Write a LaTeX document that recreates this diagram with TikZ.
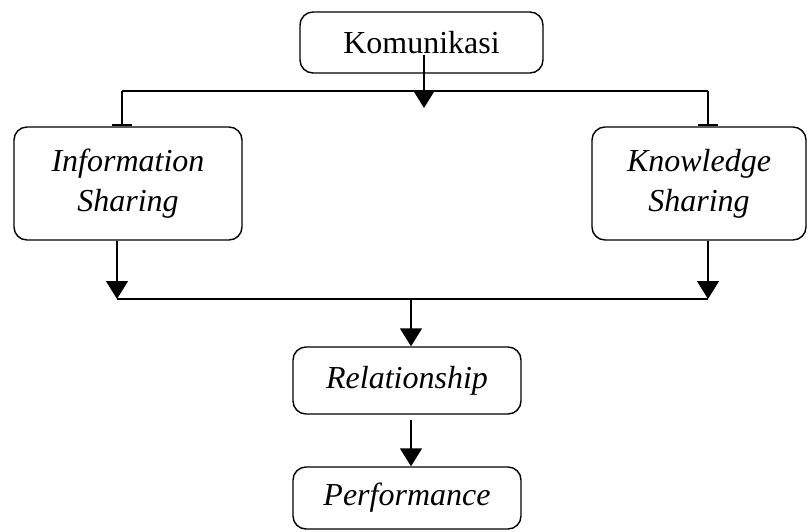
\documentclass[tikz,border=0pt]{standalone}
\usepackage{fontspec}
\setmainfont{Liberation Serif}
\usetikzlibrary{arrows.meta}
\begin{document}
\begin{tikzpicture}[x=1pt,y=-1pt,
  box/.style={draw,line width=1.4pt,rounded corners=13pt,inner sep=0pt,align=center,
    font=\fontsize{32}{40}\selectfont},
  conn/.style={line width=1.4pt},
  arr/.style={line width=1.4pt,-{Triangle[length=18pt,width=22pt]}},
  teeend/.style={line width=1.4pt,-{Bar[width=20pt,line width=2.5pt]}}]
\useasboundingbox (0,0) rectangle (809,531);
\node[box,minimum width=243pt,minimum height=61pt] (kom) at (421.5,42.5) {Komunikasi};
\node[box,minimum width=228pt,minimum height=113pt] (info) at (128,183.5) {\itshape Information\\\itshape Sharing};
\node[box,minimum width=214pt,minimum height=113pt] (know) at (699,183.5) {\itshape Knowledge\\\itshape Sharing};
\node[box,minimum width=228pt,minimum height=67pt] (rel) at (407,380.5) {\itshape Relationship};
\node[box,minimum width=228pt,minimum height=62pt] (perf) at (407,498) {\itshape Performance};
\coordinate (tl) at (122,91);
\coordinate (tr) at (708,91);
\coordinate (ks) at (424,55);
\coordinate (ke) at (424,108);
\coordinate (bl) at (117,299);
\coordinate (br) at (708,299);
\coordinate (bm) at (411,299);
\coordinate (rs) at (411,420);
\draw[conn] (tl) -- (tr);
\draw[arr] (ks) -- (ke);
\draw[teeend] (tl) -- (info.north -| tl);
\draw[teeend] (tr) -- (know.north -| tr);
\draw[conn] (bl) -- (br);
\draw[arr] (info.south -| bl) -- (bl);
\draw[arr] (know.south -| br) -- (br);
\draw[arr] (bm) -- (rel.north -| bm);
\draw[arr] (rs) -- (perf.north -| rs);
\end{tikzpicture}
\end{document}
